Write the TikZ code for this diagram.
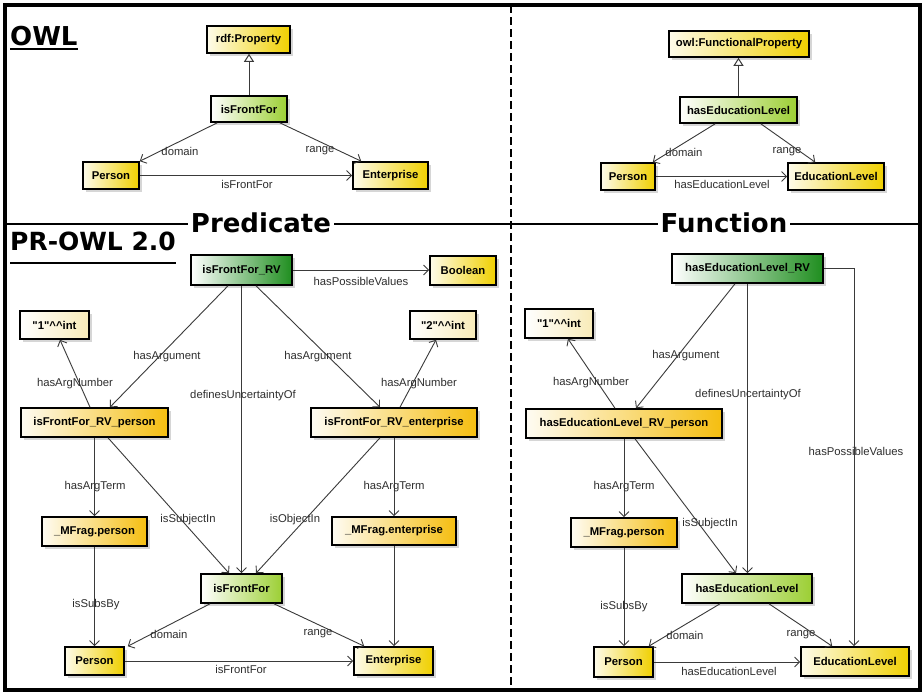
\documentclass[tikz,border=0pt]{standalone}
\usepackage{fontspec}
\setmainfont{Liberation Sans}
\newfontfamily\headfont{DejaVu Sans}
\usetikzlibrary{arrows.meta,shadows,calc}

\definecolor{clsY}{HTML}{F0D000}
\definecolor{propG}{HTML}{9CCF34}
\definecolor{rvG}{HTML}{1F8E1F}
\definecolor{argO}{HTML}{F5BE10}
\definecolor{litC}{HTML}{F8EBB8}
\definecolor{edgeC}{HTML}{3A3A3A}

\newcommand{\dq}{\textquotedbl}
\newcommand{\hats}{\textasciicircum\textasciicircum}

\tikzset{
  box/.style={draw=black, line width=1.6pt, inner sep=0pt,
    font=\bfseries\fontsize{11.3}{13}\selectfont,
    drop shadow={shadow xshift=3pt, shadow yshift=-3pt, fill=black, opacity=0.16}},
  clsbox/.style={box, left color=white!92!clsY, right color=clsY},
  propbox/.style={box, left color=white, right color=propG},
  rvbox/.style={box, left color=white, right color=rvG},
  argbox/.style={box, left color=white!95!argO, right color=argO},
  litbox/.style={box, left color=white, right color=litC},
  edge/.style={draw=edgeC, line width=0.9pt, -{Straight Barb[length=5pt,width=10pt]}},
  inh/.style={draw=edgeC, line width=1pt, -{Triangle[open,length=8pt,width=10pt,fill=white]}},
  lbl/.style={font=\fontsize{11.3}{13}\selectfont, inner sep=0pt, text=black!82},
  title/.style={font=\headfont\bfseries\fontsize{26}{30}\selectfont, inner sep=0pt},
}

\begin{document}
\begin{tikzpicture}[x=1pt, y=-1pt]
\useasboundingbox (0,0) rectangle (924,694);
\fill[white] (0,0) rectangle (924,694);

% frame, separators
\draw[line width=3.5pt] (5,5) rectangle (920,690);
\draw[line width=2pt] (5,224) -- (920,224);
\draw[line width=2pt, dash pattern=on 8pt off 4pt] (511,5) -- (511,690);
\node[title, fill=white, inner xsep=3pt, inner ysep=2pt, anchor=base] (predT) at (261,232) {Predicate};
\node[title, fill=white, inner xsep=3pt, inner ysep=2pt, anchor=base] (funcT) at (724,232) {Function};

% section titles
\node[title, anchor=base west] (owlT) at (10,45) {OWL};
\draw[line width=2pt] ($(owlT.base west)+(0,4)$) -- ($(owlT.base east)+(0,4)$);
\node[title, font=\headfont\bfseries\fontsize{25}{30}\selectfont, anchor=base west] (prT) at (10,250) {PR-OWL 2.0};
\draw[line width=2pt] ($(prT.base west)+(0,13)$) -- ($(prT.base east)+(0,13)$);

% ---------------- OWL: predicate ----------------
\node[clsbox, minimum width=83pt, minimum height=27pt] (rdfprop) at (248.5,39.5) {rdf:Property};
\node[propbox, minimum width=76pt, minimum height=26pt] (pA) at (249,109) {isFrontFor};
\node[clsbox, minimum width=56pt, minimum height=27pt] (personA) at (111,175.5) {Person};
\node[clsbox, minimum width=75pt, minimum height=27pt] (entA) at (390.5,175.5) {Enterprise};

\draw[inh] (pA.north) -- (pA.north |- rdfprop.south);
\draw[edge] ($(pA.south west)+(7,0)$) -- (personA.north east)
  node[lbl] (lA1) at (180,151) {domain};
\draw[edge] ($(pA.south east)+(-8,0)$) -- ($(entA.north west)+(9,0)$)
  node[lbl] (lA2) at (320,151) {range};
\draw[edge] (personA.east) -- (entA.west)
  node[lbl] (lA3) at (247,184) {isFrontFor};

% ---------------- OWL: function ----------------
\node[clsbox, minimum width=140pt, minimum height=26pt] (funcprop) at (739,44) {owl:FunctionalProperty};
\node[propbox, minimum width=117pt, minimum height=26pt] (helA) at (738.5,110) {hasEducationLevel};
\node[clsbox, minimum width=54pt, minimum height=27pt] (personB) at (628,176.5) {Person};
\node[clsbox, minimum width=96pt, minimum height=27pt] (edlevB) at (836,176.5) {EducationLevel};

\draw[inh] (helA.north) -- (helA.north |- funcprop.south);
\draw[edge] ($(helA.south west)+(36,0)$) -- ($(personB.north east)+(-3,0)$)
  node[lbl] (lB1) at (684,152) {domain};
\draw[edge] ($(helA.south east)+(-37,0)$) -- ($(edlevB.north west)+(28,0)$)
  node[lbl] (lB2) at (787,152) {range};
\draw[edge] (personB.east) -- (edlevB.west)
  node[lbl] (lB3) at (722,184) {hasEducationLevel};

% ---------------- PR-OWL 2.0: predicate ----------------
\node[rvbox, minimum width=101pt, minimum height=30pt] (rvA) at (241.5,270) {isFrontFor\_RV};
\node[clsbox, minimum width=66pt, minimum height=29pt] (boolA) at (463,270.5) {Boolean};
\node[litbox, minimum width=69pt, minimum height=28pt] (int1A) at (54.5,325) {\dq1\dq\hats int};
\node[litbox, minimum width=66pt, minimum height=28pt] (int2A) at (443,325) {\dq2\dq\hats int};
\node[argbox, minimum width=147pt, minimum height=29pt] (argPA) at (94.5,422.5) {isFrontFor\_RV\_person};
\node[argbox, minimum width=166pt, minimum height=29pt] (argEA) at (394,422.5) {isFrontFor\_RV\_enterprise};
\node[argbox, minimum width=105pt, minimum height=29pt] (mfPA) at (94.5,531.5) {\_MFrag.person};
\node[argbox, minimum width=124pt, minimum height=28pt] (mfEA) at (394,531) {\_MFrag.enterprise};
\node[propbox, minimum width=81pt, minimum height=29pt] (propA2) at (241.5,588.5) {isFrontFor};
\node[clsbox, minimum width=59pt, minimum height=28pt] (personC) at (94.5,661) {Person};
\node[clsbox, minimum width=79pt, minimum height=28pt] (entC) at (393.5,661) {Enterprise};

\draw[edge] (rvA.east) -- (rvA.east -| boolA.west)
  node[lbl] (lC1) at (361,281) {hasPossibleValues};
\draw[edge] ($(rvA.south)+(-13.5,0)$) -- ($(argPA.north)+(15.5,0)$)
  node[lbl] (lC2) at (167,357) {hasArgument};
\draw[edge] ($(rvA.south)+(14.5,0)$) -- ($(argEA.north)+(-14,0)$)
  node[lbl] (lC3) at (318,357) {hasArgument};
\draw[edge] (rvA.south) -- (propA2.north)
  node[lbl] (lC4) at (243,396) {definesUncertaintyOf};
\draw[edge] ($(argPA.north)+(-4.5,0)$) -- ($(int1A.south)+(5.5,0)$)
  node[lbl] (lC5) at (75,384) {hasArgNumber};
\draw[edge] ($(argEA.north)+(6,0)$) -- ($(int2A.south)+(-7,0)$)
  node[lbl] (lC6) at (419,384) {hasArgNumber};
\draw[edge] (argPA.south) -- (mfPA.north)
  node[lbl] (lC7) at (95,487) {hasArgTerm};
\draw[edge] ($(argPA.south)+(13.5,0)$) -- ($(propA2.north)+(-12.5,0)$)
  node[lbl] (lC8) at (188,520) {isSubjectIn};
\draw[edge] ($(argEA.south)+(-14,0)$) -- ($(propA2.north)+(14.5,0)$)
  node[lbl] (lC9) at (295,520) {isObjectIn};
\draw[edge] (argEA.south) -- (mfEA.north)
  node[lbl] (lC10) at (394,487) {hasArgTerm};
\draw[edge] (mfPA.south) -- (personC.north)
  node[lbl] (lC11) at (96,605) {isSubsBy};
\draw[edge] (mfEA.south) -- (mfEA.south |- entC.north);
\draw[edge] ($(propA2.south)+(-31.5,0)$) -- ($(personC.north east)+(3,0)$)
  node[lbl] (lC12) at (169,634) {domain};
\draw[edge] ($(propA2.south)+(32.5,0)$) -- ($(entC.north west)+(11,0)$)
  node[lbl] (lC13) at (318,634) {range};
\draw[edge] (personC.east) -- (entC.west)
  node[lbl] (lC14) at (241,669) {isFrontFor};

% ---------------- PR-OWL 2.0: function ----------------
\node[rvbox, minimum width=151pt, minimum height=29pt] (rvB) at (747.5,268.5) {hasEducationLevel\_RV};
\node[litbox, minimum width=68pt, minimum height=29pt] (int1B) at (559,323.5) {\dq1\dq\hats int};
\node[argbox, minimum width=196pt, minimum height=29pt] (argPB) at (624,423.5) {hasEducationLevel\_RV\_person};
\node[argbox, minimum width=106pt, minimum height=29pt] (mfPB) at (624,532.5) {\_MFrag.person};
\node[propbox, minimum width=130pt, minimum height=29pt] (helB) at (747,588.5) {hasEducationLevel};
\node[clsbox, minimum width=59pt, minimum height=30pt] (personD) at (623.5,662) {Person};
\node[clsbox, minimum width=108pt, minimum height=29pt] (edlevD) at (855,661.5) {EducationLevel};

\draw[edge] (rvB.east) -| ($(edlevD.north)+(-1,0)$)
  node[lbl] (lD1) at (856,451) {hasPossibleValues};
\draw[edge] ($(rvB.south)+(-12.5,0)$) -- ($(argPB.north)+(12,0)$)
  node[lbl] (lD2) at (686,356) {hasArgument};
\draw[edge] (rvB.south) -- (rvB.south |- helB.north)
  node[lbl] (lD3) at (748,395) {definesUncertaintyOf};
\draw[edge] ($(argPB.north)+(-9,0)$) -- ($(int1B.south)+(9,0)$)
  node[lbl] (lD4) at (591,383) {hasArgNumber};
\draw[edge] (argPB.south) -- (mfPB.north)
  node[lbl] (lD5) at (624,487) {hasArgTerm};
\draw[edge] ($(argPB.south)+(11,0)$) -- ($(helB.north)+(-11,0)$)
  node[lbl] (lD6) at (710,524) {isSubjectIn};
\draw[edge] (mfPB.south) -- (mfPB.south |- personD.north)
  node[lbl] (lD7) at (624,607) {isSubsBy};
\draw[edge] ($(helB.south)+(-27,0)$) -- ($(personD.north east)+(-5,0)$)
  node[lbl] (lD8) at (685,635) {domain};
\draw[edge] ($(helB.south)+(22,0)$) -- ($(edlevD.north west)+(32,0)$)
  node[lbl] (lD9) at (801,635) {range};
\draw[edge] (personD.east) -- (personD.east -| edlevD.west)
  node[lbl] (lD10) at (729,671) {hasEducationLevel};
\end{tikzpicture}
\end{document}
